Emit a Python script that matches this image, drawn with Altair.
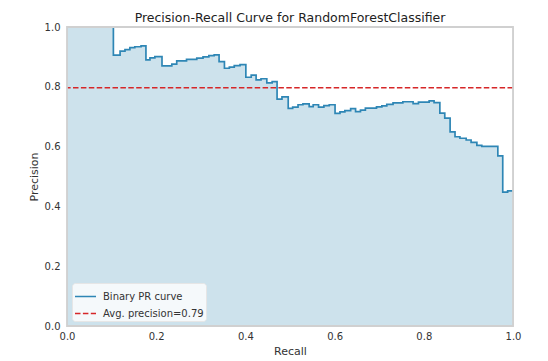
import altair as alt
import pandas as pd

recall = [0.000, 0.104, 0.119, 0.130, 0.141, 0.152, 0.166, 0.177, 0.186, 0.197,
          0.213, 0.235, 0.246, 0.268, 0.291, 0.305, 0.318, 0.330, 0.341, 0.353,
          0.364, 0.375, 0.388, 0.401, 0.413, 0.424, 0.435, 0.448, 0.460, 0.471,
          0.482, 0.496, 0.506, 0.518, 0.529, 0.543, 0.552, 0.564, 0.576, 0.588,
          0.601, 0.612, 0.623, 0.636, 0.647, 0.658, 0.669, 0.694, 0.706, 0.717,
          0.731, 0.753, 0.776, 0.788, 0.812, 0.823, 0.836, 0.847, 0.859, 0.870,
          0.881, 0.895, 0.906, 0.919, 0.930, 0.966, 0.977, 0.988, 1.000]
precision = [1.000, 0.906, 0.919, 0.924, 0.931, 0.934, 0.937, 0.890, 0.897, 0.901,
             0.870, 0.876, 0.887, 0.892, 0.896, 0.900, 0.904, 0.907, 0.884, 0.862,
             0.866, 0.871, 0.874, 0.832, 0.839, 0.823, 0.827, 0.813, 0.817, 0.759,
             0.766, 0.728, 0.732, 0.740, 0.743, 0.734, 0.740, 0.732, 0.737, 0.740,
             0.711, 0.716, 0.720, 0.727, 0.717, 0.722, 0.729, 0.733, 0.736, 0.741,
             0.746, 0.750, 0.744, 0.749, 0.753, 0.747, 0.712, 0.695, 0.649, 0.633,
             0.628, 0.622, 0.614, 0.604, 0.601, 0.569, 0.448, 0.452, 0.452]
avg_precision = 0.797
series_names = ["Binary PR curve", "Avg. precision=0.79"]
ticks = [0.0, 0.2, 0.4, 0.6, 0.8, 1.0]

curve = pd.DataFrame({"recall": recall, "precision": precision, "series": series_names[0]})
avg = pd.DataFrame({"precision": [avg_precision], "series": [series_names[1]]})

FONT = "DejaVu Sans"
W, H = 446, 299

xscale = alt.Scale(domain=[0, 1], nice=False, zero=False)
yscale = alt.Scale(domain=[0, 1], nice=False, zero=False)

xax = alt.Axis(values=ticks, format=".1f", ticks=False, domain=False, grid=False,
               labelPadding=5, titlePadding=4, labelFontSize=10, titleFontSize=11,
               labelColor="#333333", titleColor="#333333", labelFont=FONT, titleFont=FONT,
               titleFontWeight="normal", labelFlush=False)
yax = alt.Axis(values=ticks, format=".1f", ticks=False, domain=False, grid=False,
               labelPadding=7, titlePadding=5, labelFontSize=10, titleFontSize=11,
               labelColor="#333333", titleColor="#333333", labelFont=FONT, titleFont=FONT,
               titleFontWeight="normal", labelFlush=False)

color_scale = alt.Scale(domain=series_names, range=["#2e86b5", "#d62728"])
dash_scale = alt.Scale(domain=series_names, range=[[1, 0], [5.5, 2.4]])
legend = alt.Legend(title=None, orient="bottom-left", offset=5, symbolType="stroke",
                    symbolSize=441, symbolStrokeWidth=1.6, labelFontSize=10, labelFont=FONT,
                    labelColor="#333333", padding=2, rowPadding=-7, labelOffset=6,
                    fillColor="rgba(255,255,255,0.8)", strokeColor="#e6e6e6",
                    cornerRadius=3)

area = alt.Chart(curve).mark_area(interpolate="step-after", color="#cde2ec", clip=True).encode(
    x=alt.X("recall:Q", scale=xscale, axis=xax, title="Recall"),
    y=alt.Y("precision:Q", scale=yscale, axis=yax, title="Precision"),
)

line = alt.Chart(curve).mark_line(interpolate="step-after", strokeWidth=1.7, clip=True).encode(
    x=alt.X("recall:Q", scale=xscale),
    y=alt.Y("precision:Q", scale=yscale),
    color=alt.Color("series:N", scale=color_scale, legend=legend),
    strokeDash=alt.StrokeDash("series:N", scale=dash_scale, legend=legend),
)

rule = alt.Chart(avg).mark_rule(strokeWidth=1.6).encode(
    y=alt.Y("precision:Q", scale=yscale),
    color=alt.Color("series:N", scale=color_scale, legend=legend),
    strokeDash=alt.StrokeDash("series:N", scale=dash_scale, legend=legend),
)

# plot frame (spines) drawn above the curve, as in matplotlib
frame = alt.Chart(avg).mark_rect(fillOpacity=0, stroke="#d0d0d0", strokeWidth=1.8).encode(
    x=alt.value(0), x2=alt.value(W), y=alt.value(0), y2=alt.value(H)
)

chart = alt.layer(area, line, rule, frame).properties(
    width=W, height=H,
    title=alt.Title("Precision-Recall Curve for RandomForestClassifier", fontSize=12.5,
                    font=FONT, fontWeight="normal", color="#222222", offset=5, dy=7,
                    anchor="middle", frame="group"),
    autosize=alt.AutoSizeParams(type="none"),
    padding={"left": 59, "top": 19, "right": 27, "bottom": 35},
).configure_view(stroke=None).configure(background="white")

chart.save("out.html", embed_options={"renderer": "svg", "actions": False})
